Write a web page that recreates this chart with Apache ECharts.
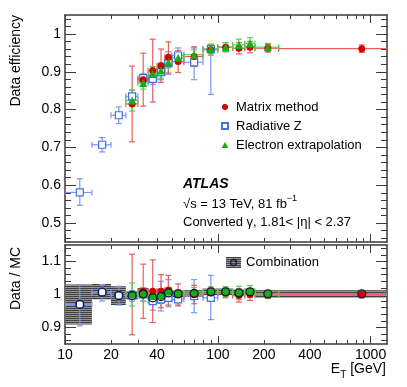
<!DOCTYPE html>
<html>
<head>
<meta charset="utf-8">
<script src="https://cdn.jsdelivr.net/npm/echarts@6/dist/echarts.min.js"></script>
<style>
html, body { margin: 0; padding: 0; background: #fff; }
#chart { width: 407px; height: 387px; }
</style>
</head>
<body>
<div id="chart"></div>
<script>
// E_T bins [GeV]
const binEdges = [10, 15, 20, 25, 30, 35, 40, 45, 50, 60, 80, 100, 125, 150, 175, 250, 1500];

// top panel: data efficiency
const matrixEff = [null, null, null, 0.815, 0.879, 0.903, 0.916, 0.938, 0.927, 0.940, 0.958, 0.965, 0.962, 0.965, 0.962, 0.961];
const matrixErr = [null, null, null, 0.100, 0.070, 0.083, 0.044, 0.041, 0.029, 0.026, 0.014, 0.012, 0.015, 0.015, 0.010, 0.010];
const radZEff = [0.581, 0.707, 0.785, 0.835, 0.883, 0.881, 0.899, 0.923, 0.943, 0.925, 0.960];
const radZErrLo = [0.034, 0.019, 0.022, 0.016, 0.012, 0.014, 0.020, 0.030, 0.020, 0.046, 0.120];
const radZErrHi = [0.036, 0.019, 0.022, 0.016, 0.012, 0.014, 0.020, 0.030, 0.020, 0.038, 0.013];
const elecEff = [null, null, null, 0.824, 0.870, 0.894, 0.903, 0.925, 0.937, 0.945, 0.960, 0.965, 0.971, 0.975, 0.965];
const elecErr = [null, null, null, 0.028, 0.016, 0.020, 0.020, 0.015, 0.012, 0.013, 0.012, 0.012, 0.015, 0.015, 0.010];

// bottom panel: data / MC
const matrixRatio = [null, null, null, 1.000, 1.010, 1.010, 1.010, 1.013, 1.000, 1.000, 1.005, 1.005, 0.997, 1.000, 1.000, 1.000];
const matrixRatioErr = [null, null, null, 0.122, 0.082, 0.095, 0.050, 0.045, 0.032, 0.028, 0.018, 0.015, 0.020, 0.018, 0.012, 0.010];
const radZRatio = [0.970, 1.007, 0.997, 0.997, 1.000, 0.980, 0.985, 0.990, 0.985, 0.995, 0.990];
const radZRatioLo = [0.905, 0.980, 0.968, 0.980, 0.980, 0.952, 0.950, 0.963, 0.965, 0.945, 0.924];
const radZRatioHi = [1.030, 1.030, 1.025, 1.012, 1.020, 1.000, 1.040, 1.045, 1.010, 1.045, 1.058];
const elecRatio = [null, null, null, 1.000, 1.000, 0.993, 0.995, 1.007, 1.002, 1.005, 1.009, 1.009, 1.005, 1.009, 1.002];
const elecRatioErr = [null, null, null, 0.035, 0.020, 0.020, 0.022, 0.015, 0.012, 0.016, 0.013, 0.015, 0.020, 0.018, 0.010];
const combRatio = [0.970, 1.007, 0.997, 0.997, 1.002, 0.990, 0.994, 1.005, 1.002, 1.003, 1.008, 1.008, 1.005, 1.008, 1.002, 1.002];
const combLo = [0.909, 0.985, 0.968, 0.985, 0.990, 0.978, 0.980, 0.993, 0.992, 0.993, 0.998, 0.998, 0.995, 0.998, 0.990, 0.990];
const combHi = [1.030, 1.032, 1.025, 1.010, 1.020, 1.005, 1.010, 1.017, 1.012, 1.013, 1.018, 1.018, 1.015, 1.018, 1.013, 1.013];

// axes
const xMin = 10, xMax = 1280;
const xMajor = [10, 100, 1000];
const xMinor = [20, 30, 40, 50, 60, 70, 80, 90, 200, 300, 400, 500, 600, 700, 800, 900];
const xLabels = [10, 20, 40, 100, 200, 400, 1000];
const effMajor = [0.5, 0.6, 0.7, 0.8, 0.9, 1.0];
const ratioMajor = [0.9, 1.0, 1.1];

const FONT = 'Liberation Sans, Arial, sans-serif';
const frameColor = '#3a3a3a';
const LX = Math.log10;

function minorList(lo, hi) {
  const out = [];
  for (let k = Math.round(lo / 0.02); k <= Math.round(hi / 0.02); k++) out.push(+(k * 0.02).toFixed(2));
  return out;
}

function center(i) { return (binEdges[i] + binEdges[i + 1]) / 2; }

function errData(vals, lo, hi) {
  const out = [];
  vals.forEach((v, i) => {
    if (v == null) return;
    out.push([center(i), v, v - lo[i], v + hi[i], binEdges[i], binEdges[i + 1]]);
  });
  return out;
}
function errDataAbs(vals, lo, hi) {
  const out = [];
  vals.forEach((v, i) => {
    if (v == null) return;
    out.push([center(i), v, lo[i], hi[i], binEdges[i], binEdges[i + 1]]);
  });
  return out;
}
function pts(vals) {
  const out = [];
  vals.forEach((v, i) => { if (v != null) out.push([center(i), v]); });
  return out;
}

// hatched fill used for the combination band
function hatchCanvas() {
  const c = document.createElement('canvas');
  c.width = 4; c.height = 2;
  const g = c.getContext('2d');
  g.fillStyle = '#949494'; g.fillRect(0, 0, 4, 2);
  g.fillStyle = '#424242'; g.fillRect(0, 0, 4, 1);
  return c;
}
const hatch = hatchCanvas();
function combIcon() {
  const c = document.createElement('canvas');
  c.width = 15; c.height = 11;
  const g = c.getContext('2d');
  g.fillStyle = g.createPattern(hatch, 'repeat');
  g.fillRect(0, 0, 15, 11);
  g.strokeStyle = '#14163a'; g.lineWidth = 1.3;
  g.beginPath(); g.arc(7.5, 5.5, 3, 0, Math.PI * 2); g.stroke();
  return 'image://' + c.toDataURL();
}

function errRender(color) {
  return function (params, api) {
    const x = api.value(0), y = api.value(1);
    const c = api.coord([x, y]);
    const lo = api.coord([x, api.value(2)]);
    const hi = api.coord([x, api.value(3)]);
    const l = api.coord([api.value(4), y]);
    const r = api.coord([api.value(5), y]);
    const st = { stroke: color, lineWidth: 1.2 };
    const cap = 3;
    return {
      type: 'group',
      children: [
        { type: 'line', shape: { x1: c[0], y1: lo[1], x2: c[0], y2: hi[1] }, style: st },
        { type: 'line', shape: { x1: c[0] - cap, y1: lo[1], x2: c[0] + cap, y2: lo[1] }, style: st },
        { type: 'line', shape: { x1: c[0] - cap, y1: hi[1], x2: c[0] + cap, y2: hi[1] }, style: st },
        { type: 'line', shape: { x1: l[0], y1: c[1], x2: r[0], y2: c[1] }, style: st },
        { type: 'line', shape: { x1: l[0], y1: c[1] - cap, x2: l[0], y2: c[1] + cap }, style: st },
        { type: 'line', shape: { x1: r[0], y1: c[1] - cap, x2: r[0], y2: c[1] + cap }, style: st }
      ]
    };
  };
}

function bandRender(params, api) {
  const p1 = api.coord([api.value(0), api.value(3)]);
  const p2 = api.coord([api.value(1), api.value(2)]);
  return {
    type: 'rect',
    shape: { x: p1[0], y: p1[1], width: p2[0] - p1[0], height: p2[1] - p1[1] },
    style: { fill: { image: hatch, repeat: 'repeat' } }
  };
}

function xAxes(grid, withLabels) {
  const base = {
    type: 'value', gridIndex: grid, min: LX(xMin), max: LX(xMax),
    splitLine: { show: false }, axisLabel: { show: false }
  };
  const line = { show: true, lineStyle: { color: frameColor, width: 1.5 } };
  const mk = (pos, ticks, len, showLine, labels) => Object.assign({}, base, {
    position: pos,
    axisLine: showLine ? line : { show: false },
    axisTick: { show: true, inside: true, length: len, customValues: ticks.map(LX), lineStyle: { color: frameColor, width: 1 } },
    axisLabel: labels ? {
      show: true, customValues: labels.map(LX), margin: 4, fontSize: 14, fontFamily: FONT, color: '#000',
      formatter: v => String(Math.round(Math.pow(10, v)))
    } : { show: false }
  });
  return [
    { type: 'log', logBase: 10, gridIndex: grid, min: xMin, max: xMax, show: false },
    mk('bottom', xMajor, 8, true, withLabels ? xLabels : null),
    mk('bottom', xMinor, 4, false, null),
    mk('top', xMajor, 8, true, null),
    mk('top', xMinor, 4, false, null)
  ];
}

function yAxes(grid, min, max, major) {
  const minor = minorList(min, max).filter(v => v > min && v < max);
  const line = { show: true, lineStyle: { color: frameColor, width: 1.5 } };
  const mk = (pos, ticks, len, showLine, labels) => ({
    type: 'value', gridIndex: grid, position: pos, min: min, max: max,
    splitLine: { show: false },
    axisLine: showLine ? line : { show: false },
    axisTick: { show: true, inside: true, length: len, customValues: ticks, lineStyle: { color: frameColor, width: 1 } },
    axisLabel: labels ? {
      show: true, customValues: labels, margin: 4, fontSize: 14, fontFamily: FONT, color: '#000',
      formatter: v => String(parseFloat(v.toFixed(2)))
    } : { show: false }
  });
  return [
    mk('left', major, 11, true, major),
    mk('left', minor, 6, false, null),
    mk('right', major, 11, true, null),
    mk('right', minor, 6, false, null)
  ];
}

const RED = '#d40000', RED_ERR = '#e4605f';
const BLUE = '#3f6fe6', BLUE_ERR = '#7a98ee';
const GREEN = '#12b012', GREEN_ERR = '#55cf55';

const option = {
  animation: false,
  backgroundColor: '#fff',
  textStyle: { fontFamily: FONT },
  grid: [
    { left: 65, top: 15, width: 322, height: 227, outerBoundsMode: 'none' },
    { left: 65, top: 245, width: 322, height: 99, outerBoundsMode: 'none' }
  ],
  xAxis: xAxes(0, false).concat(xAxes(1, true)),
  yAxis: yAxes(0, 0.45, 1.05, effMajor).concat(yAxes(1, 0.85, 1.15, ratioMajor)),
  legend: [{
    orient: 'vertical', left: 216, top: 94, itemWidth: 12, itemHeight: 6, itemGap: 3,
    selectedMode: false, symbolKeepAspect: true,
    textStyle: { fontSize: 13, lineHeight: 16, color: '#000', fontFamily: FONT },
    data: [
      { name: 'Matrix method', icon: 'circle' },
      { name: 'Radiative Z', icon: 'path://M0,0H10V10H0Z' },
      { name: 'Electron extrapolation', icon: 'path://M5,0L10,9H0Z' }
    ]
  }, {
    left: 221, top: 251, itemWidth: 15, itemHeight: 11,
    selectedMode: false,
    textStyle: { fontSize: 13, color: '#000', fontFamily: FONT },
    data: [{ name: 'Combination', icon: combIcon() }]
  }],
  graphic: [
    { type: 'text', x: 16, y: 15, rotation: Math.PI / 2,
      style: { text: 'Data efficiency', font: '14px ' + FONT, fill: '#000', align: 'right', verticalAlign: 'middle' } },
    { type: 'text', x: 16, y: 247, rotation: Math.PI / 2,
      style: { text: 'Data / MC', font: '14px ' + FONT, fill: '#000', align: 'right', verticalAlign: 'middle' } },
    { type: 'text', x: 386, y: 362,
      style: {
        text: '{e|E}{s|T}{e| [GeV]}', align: 'right', verticalAlign: 'top', fill: '#000',
        rich: {
          e: { fontSize: 14, fontFamily: FONT, lineHeight: 16, verticalAlign: 'top' },
          s: { fontSize: 10, fontFamily: FONT, lineHeight: 10, padding: [8, 0, 0, 0], verticalAlign: 'top' }
        }
      } },
    { type: 'text', x: 183, y: 184,
      style: { text: 'ATLAS', font: 'italic bold 14px ' + FONT, fill: '#000', align: 'left', verticalAlign: 'middle' } },
    { type: 'text', x: 183, y: 194,
      style: {
        text: '{n|√s = 13 TeV, 81 fb}{p|−1}', align: 'left', verticalAlign: 'top', fill: '#000',
        rich: {
          n: { fontSize: 13, fontFamily: FONT, lineHeight: 14, padding: [4, 0, 0, 0], verticalAlign: 'top' },
          p: { fontSize: 9, fontFamily: FONT, lineHeight: 9, verticalAlign: 'top' }
        }
      } },
    { type: 'text', x: 183, y: 222,
      style: { text: 'Converted γ, 1.81< |η| < 2.37', font: '13px ' + FONT, fill: '#000', align: 'left', verticalAlign: 'middle' } }
  ],
  series: [
    // top panel
    { type: 'custom', name: 'radZErr', xAxisIndex: 0, yAxisIndex: 0, clip: true, z: 2,
      renderItem: errRender(BLUE_ERR), encode: { x: [0, 4, 5], y: [1, 2, 3] },
      data: errData(radZEff, radZErrLo, radZErrHi) },
    { type: 'custom', name: 'matrixErr', xAxisIndex: 0, yAxisIndex: 0, clip: true, z: 3,
      renderItem: errRender(RED_ERR), encode: { x: [0, 4, 5], y: [1, 2, 3] },
      data: errData(matrixEff, matrixErr, matrixErr) },
    { type: 'custom', name: 'elecErr', xAxisIndex: 0, yAxisIndex: 0, clip: true, z: 4,
      renderItem: errRender(GREEN_ERR), encode: { x: [0, 4, 5], y: [1, 2, 3] },
      data: errData(elecEff, elecErr, elecErr) },
    { type: 'scatter', name: 'Radiative Z', xAxisIndex: 0, yAxisIndex: 0, z: 5,
      symbol: 'rect', symbolSize: 7,
      itemStyle: { color: '#fff', borderColor: BLUE, borderWidth: 1.2, opacity: 1 },
      data: pts(radZEff) },
    { type: 'scatter', name: 'Matrix method', xAxisIndex: 0, yAxisIndex: 0, z: 6,
      symbol: 'circle', symbolSize: 7, itemStyle: { color: RED, opacity: 1 },
      data: pts(matrixEff) },
    { type: 'scatter', name: 'Electron extrapolation', xAxisIndex: 0, yAxisIndex: 0, z: 7,
      symbol: 'triangle', symbolSize: 8, itemStyle: { color: GREEN, opacity: 1 },
      data: pts(elecEff) },

    // bottom panel
    { type: 'custom', name: 'Combination', xAxisIndex: 5, yAxisIndex: 4, clip: true, z: 1,
      renderItem: bandRender, encode: { x: [0, 1], y: [2, 3] },
      data: combRatio.map((v, i) => [binEdges[i], binEdges[i + 1], combLo[i], combHi[i]]) },
    { type: 'custom', name: 'radZRatioErr', xAxisIndex: 5, yAxisIndex: 4, clip: true, z: 2,
      renderItem: errRender(BLUE_ERR), encode: { x: [0, 4, 5], y: [1, 2, 3] },
      data: errDataAbs(radZRatio, radZRatioLo, radZRatioHi) },
    { type: 'custom', name: 'matrixRatioErr', xAxisIndex: 5, yAxisIndex: 4, clip: true, z: 3,
      renderItem: errRender(RED_ERR), encode: { x: [0, 4, 5], y: [1, 2, 3] },
      data: errData(matrixRatio, matrixRatioErr, matrixRatioErr) },
    { type: 'custom', name: 'elecRatioErr', xAxisIndex: 5, yAxisIndex: 4, clip: true, z: 4,
      renderItem: errRender(GREEN_ERR), encode: { x: [0, 4, 5], y: [1, 2, 3] },
      data: errData(elecRatio, elecRatioErr, elecRatioErr) },
    { type: 'scatter', name: 'radZRatio', xAxisIndex: 5, yAxisIndex: 4, z: 5,
      symbol: 'rect', symbolSize: 7,
      itemStyle: { color: '#fff', borderColor: BLUE, borderWidth: 1.2, opacity: 1 },
      data: pts(radZRatio) },
    { type: 'scatter', name: 'matrixRatio', xAxisIndex: 5, yAxisIndex: 4, z: 6,
      symbol: 'circle', symbolSize: 7, itemStyle: { color: RED, opacity: 1 },
      data: pts(matrixRatio) },
    { type: 'scatter', name: 'elecRatio', xAxisIndex: 5, yAxisIndex: 4, z: 7,
      symbol: 'circle', symbolSize: 7, itemStyle: { color: GREEN, opacity: 1 },
      data: pts(elecRatio) },
    { type: 'scatter', name: 'combRatio', xAxisIndex: 5, yAxisIndex: 4, z: 8,
      symbol: 'circle', symbolSize: 8,
      itemStyle: { color: 'rgba(0,0,0,0)', borderColor: '#14163a', borderWidth: 1.3, opacity: 1 },
      data: pts(combRatio) }
  ]
};

const chart = echarts.init(document.getElementById('chart'), null, { renderer: 'canvas' });
chart.setOption(option);
</script>
</body>
</html>
